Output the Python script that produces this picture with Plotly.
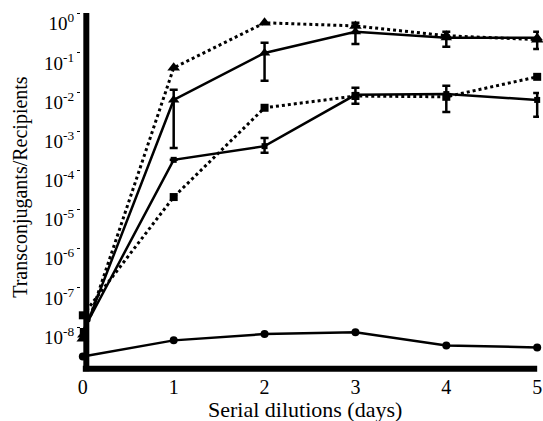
import plotly.graph_objects as go

days = [0, 1, 2, 3, 4, 5]

# log10 values
circle_log = [-8.75, -8.34, -8.18, -8.13, -8.47, -8.52]
tri_dot_log = [-8.3, -1.38, -0.23, -0.31, -0.56, -0.66]
tri_solid_log = [-8.2, -2.20, -1.00, -0.46, -0.61, -0.61]
tri_solid_up = [0.0, 0.26, 0.26, 0.23, 0.15, 0.15]
tri_solid_dn = [0.0, 1.23, 0.71, 0.31, 0.23, 0.29]
sq_dot_log = [-7.70, -4.68, -2.40, -2.10, -2.12, -1.61]
sq_solid_log = [-8.1, -3.73, -3.38, -2.07, -2.05, -2.20]
sq_solid_up = [0.0, 0.0, 0.21, 0.18, 0.21, 0.18]
sq_solid_dn = [0.0, 0.0, 0.17, 0.23, 0.46, 0.43]

ytick_exp = [0, -1, -2, -3, -4, -5, -6, -7, -8]
ytick_text = ["10<sup>%d</sup>" % e for e in ytick_exp]
xtick_text = ["0", "1", "2", "3", "4", "5"]


def tv(logs):
    return [10 ** v for v in logs]


def err(logs, up, dn):
    plus = [10 ** (v + u) - 10 ** v for v, u in zip(logs, up)]
    minus = [10 ** v - 10 ** (v - d) for v, d in zip(logs, dn)]
    return dict(type="data", symmetric=False, array=plus, arrayminus=minus,
                color="black", thickness=2.5, width=4)


FONT = "Liberation Serif"
fig = go.Figure()

fig.add_trace(go.Scatter(x=days, y=tv(sq_dot_log), mode="lines+markers",
                         line=dict(color="black", width=3, dash="3px,3px"),
                         marker=dict(symbol="square", size=8, color="black"),
                         cliponaxis=False))
fig.add_trace(go.Scatter(x=days, y=tv(tri_dot_log), mode="lines+markers",
                         line=dict(color="black", width=3, dash="3px,3px"),
                         marker=dict(symbol="triangle-up", size=11, color="black"),
                         cliponaxis=False))
fig.add_trace(go.Scatter(x=days, y=tv(tri_solid_log), mode="lines+markers",
                         line=dict(color="black", width=2.5),
                         marker=dict(symbol="triangle-up", size=10, color="black"),
                         error_y=err(tri_solid_log, tri_solid_up, tri_solid_dn),
                         cliponaxis=False))
fig.add_trace(go.Scatter(x=days, y=tv(sq_solid_log), mode="lines+markers",
                         line=dict(color="black", width=2.5),
                         marker=dict(symbol="square", size=6, color="black"),
                         error_y=err(sq_solid_log, sq_solid_up, sq_solid_dn),
                         cliponaxis=False))
fig.add_trace(go.Scatter(x=days, y=tv(circle_log), mode="lines+markers",
                         line=dict(color="black", width=2.5),
                         marker=dict(symbol="circle", size=8, color="black"),
                         cliponaxis=False))

fig.update_layout(
    width=543, height=421,
    margin=dict(l=81, r=4, t=13, b=54, autoexpand=False),
    paper_bgcolor="white", plot_bgcolor="white",
    showlegend=False,
    font=dict(family=FONT, size=19, color="black"),
    xaxis=dict(range=[-0.02, 5.02], tickvals=days, ticktext=xtick_text,
               showline=False, automargin=False, ticklabeloverflow="allow",
               showgrid=False, zeroline=False, ticks="", ticklabelstandoff=6,
               tickfont=dict(family=FONT, size=20)),
    yaxis=dict(type="log", range=[-9.02, 0.02], automargin=False,
               tickvals=[10 ** e for e in ytick_exp], ticktext=ytick_text,
               showline=False, ticklabeloverflow="allow",
               showgrid=False, zeroline=False, ticks="outside", ticklen=3,
               tickwidth=1, tickcolor="black", ticklabelshift=10,
               ticklabelstandoff=-1,
               tickfont=dict(family=FONT, size=19)),
    shapes=[
        dict(type="line", xref="x", yref="paper", x0=0.0385, x1=0.0385,
             y0=-0.012, y1=1.0, layer="below", line=dict(color="black", width=6)),
        dict(type="line", xref="x", yref="paper", x0=0.0, x1=5.0,
             y0=-0.005, y1=-0.005, layer="below", line=dict(color="black", width=6)),
    ],
    annotations=[
        dict(text="Serial dilutions (days)", xref="paper", yref="paper",
             x=0.49, y=0, yshift=-42, showarrow=False, xanchor="center",
             yanchor="middle", font=dict(family=FONT, size=22)),
        dict(text="Transconjugants/Recipients", xref="paper", yref="paper",
             x=0, xshift=-60, y=0.509, textangle=-90, showarrow=False,
             xanchor="center", yanchor="middle", font=dict(family=FONT, size=20)),
    ],
)

fig.write_html("out.html", post_script="document.body.style.margin='0';",
               config={"displayModeBar": False})
